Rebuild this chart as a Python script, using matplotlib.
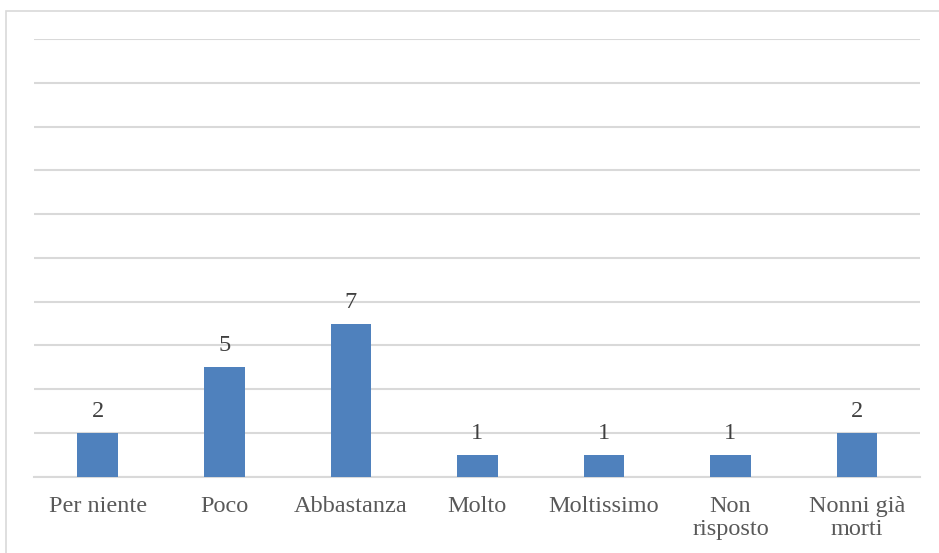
import matplotlib
matplotlib.use("Agg")
import matplotlib.pyplot as plt
from matplotlib.patches import Rectangle

plt.rcParams['font.family'] = ['Liberation Serif', 'DejaVu Serif']

categorie = ['Per niente', 'Poco', 'Abbastanza', 'Molto', 'Moltissimo',
             'Non\nrisposto', 'Nonni già\nmorti']
valori = [2, 5, 7, 1, 1, 1, 2]

fig = plt.figure(figsize=(9.39, 5.53), dpi=100)
ax = fig.add_axes([0.0367, 0.138, 0.9433, 0.791])

# cornice esterna del grafico
fig.patches.append(Rectangle((6 / 939, -0.01), 1.0, 1 - 11 / 553 + 0.01,
                             transform=fig.transFigure, fill=False,
                             edgecolor='#D9D9D9', linewidth=1.2))

x = range(len(categorie))
barre = ax.bar(x, valori, width=0.32, color='#4F81BD', zorder=3)

for xi, v in zip(x, valori):
    ax.text(xi, v + 0.5, str(v), ha='center', va='bottom',
            fontsize=17.5, color='#404040')

ax.set_xlim(-0.5, len(categorie) - 0.5)
ax.set_ylim(0, 20)
ax.set_yticks(range(0, 21, 2))
ax.set_yticklabels([])
ax.tick_params(axis='y', length=0)
ax.tick_params(axis='x', length=0, pad=14)
ax.set_xticks(list(x))
ax.set_xticklabels(categorie, fontsize=17.5, color='#595959', linespacing=1.12)
ax.grid(axis='y', color='#D9D9D9', linewidth=1.5, zorder=0)
for lato in ['top', 'right', 'left']:
    ax.spines[lato].set_visible(False)
ax.spines['bottom'].set_color('#D9D9D9')
ax.spines['bottom'].set_linewidth(1.5)

fig.savefig('out.png', dpi=100)
